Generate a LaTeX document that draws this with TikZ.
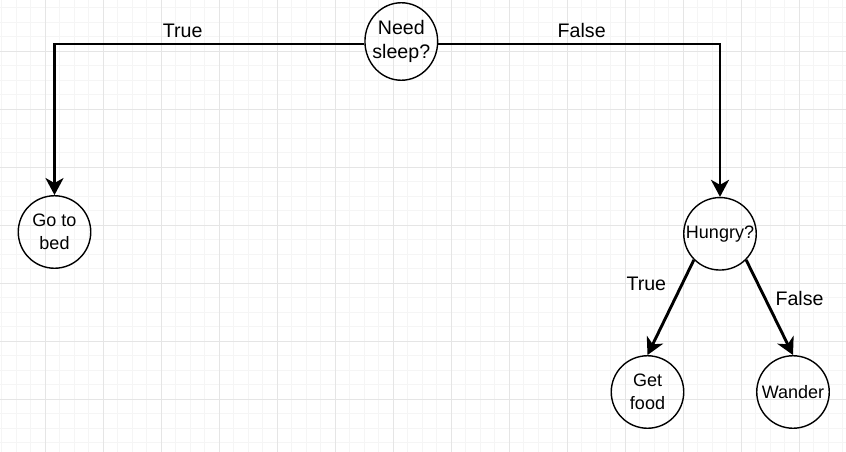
\documentclass[tikz,border=0pt]{standalone}
\usepackage{fontspec}
\setmainfont{Liberation Sans}
\usetikzlibrary{arrows.meta, shapes.geometric}
\definecolor{gridminor}{RGB}{245,245,245}
\definecolor{gridmajor}{RGB}{229,229,229}

\begin{document}
\begin{tikzpicture}[x=1pt, y=-1pt,
    state/.style={draw, circle, line width=1.4pt, minimum size=72.5pt, inner sep=0pt,
                  align=center, font=\fontsize{18}{22.5}\selectfont},
    flow/.style={line width=2.9pt, -{Stealth[length=17pt, width=18pt, inset=5pt]}},
    lbl/.style={anchor=base, font=\fontsize{19.6}{23}\selectfont}]
    \useasboundingbox (0,0) rectangle (846,452);
    \fill[white] (0,0) rectangle (846,452);

    % background grid: light lines, darker every fourth
    \foreach \k in {0,...,58} {
      \pgfmathsetmacro{\gx}{1.8+14.5*\k}
      \draw[gridminor, line width=1pt] (\gx,0) -- (\gx,452);
    }
    \foreach \k in {0,...,30} {
      \pgfmathsetmacro{\gy}{7.8+14.5*\k}
      \draw[gridminor, line width=1pt] (0,\gy) -- (846,\gy);
    }
    \foreach \k in {0,...,13} {
      \pgfmathsetmacro{\gx}{45.3+58*\k}
      \draw[gridmajor, line width=1pt] (\gx,0) -- (\gx,452);
    }
    \foreach \k in {0,...,6} {
      \pgfmathsetmacro{\gy}{51.3+58*\k}
      \draw[gridmajor, line width=1pt] (0,\gy) -- (846,\gy);
    }

    % decision nodes
    \node[state, ellipse, inner xsep=-4pt, minimum width=72.7pt, minimum height=77.5pt,
          font=\fontsize{19.6}{24}\selectfont] (sleep) at (401.3,41.5) {Need\\sleep?};
    \node[state] (bed) at (54.5,232) {Go to\\bed};
    \node[state] (hungry) at (720,233.8) {Hungry?};
    \node[state] (food) at (647.5,392) {Get\\food};
    \node[state] (wander) at (793,392) {Wander};

    % branches
    \draw[flow] ([yshift=-2.5pt]sleep.west) -| (bed.north);
    \draw[flow] ([yshift=-2.5pt]sleep.east) -| (hungry.north);
    \draw[flow] (hungry.south west) -- (food.north);
    \draw[flow] (hungry.south east) -- (wander.north);

    % branch labels
    \node[lbl] (sleepyes) at (182.7,37.7) {True};
    \node[lbl] (sleepno) at (581.7,37.7) {False};
    \node[lbl] (hungryyes) at (646.3,290.7) {True};
    \node[lbl] (hungryno) at (799.5,305.7) {False};
\end{tikzpicture}
\end{document}
